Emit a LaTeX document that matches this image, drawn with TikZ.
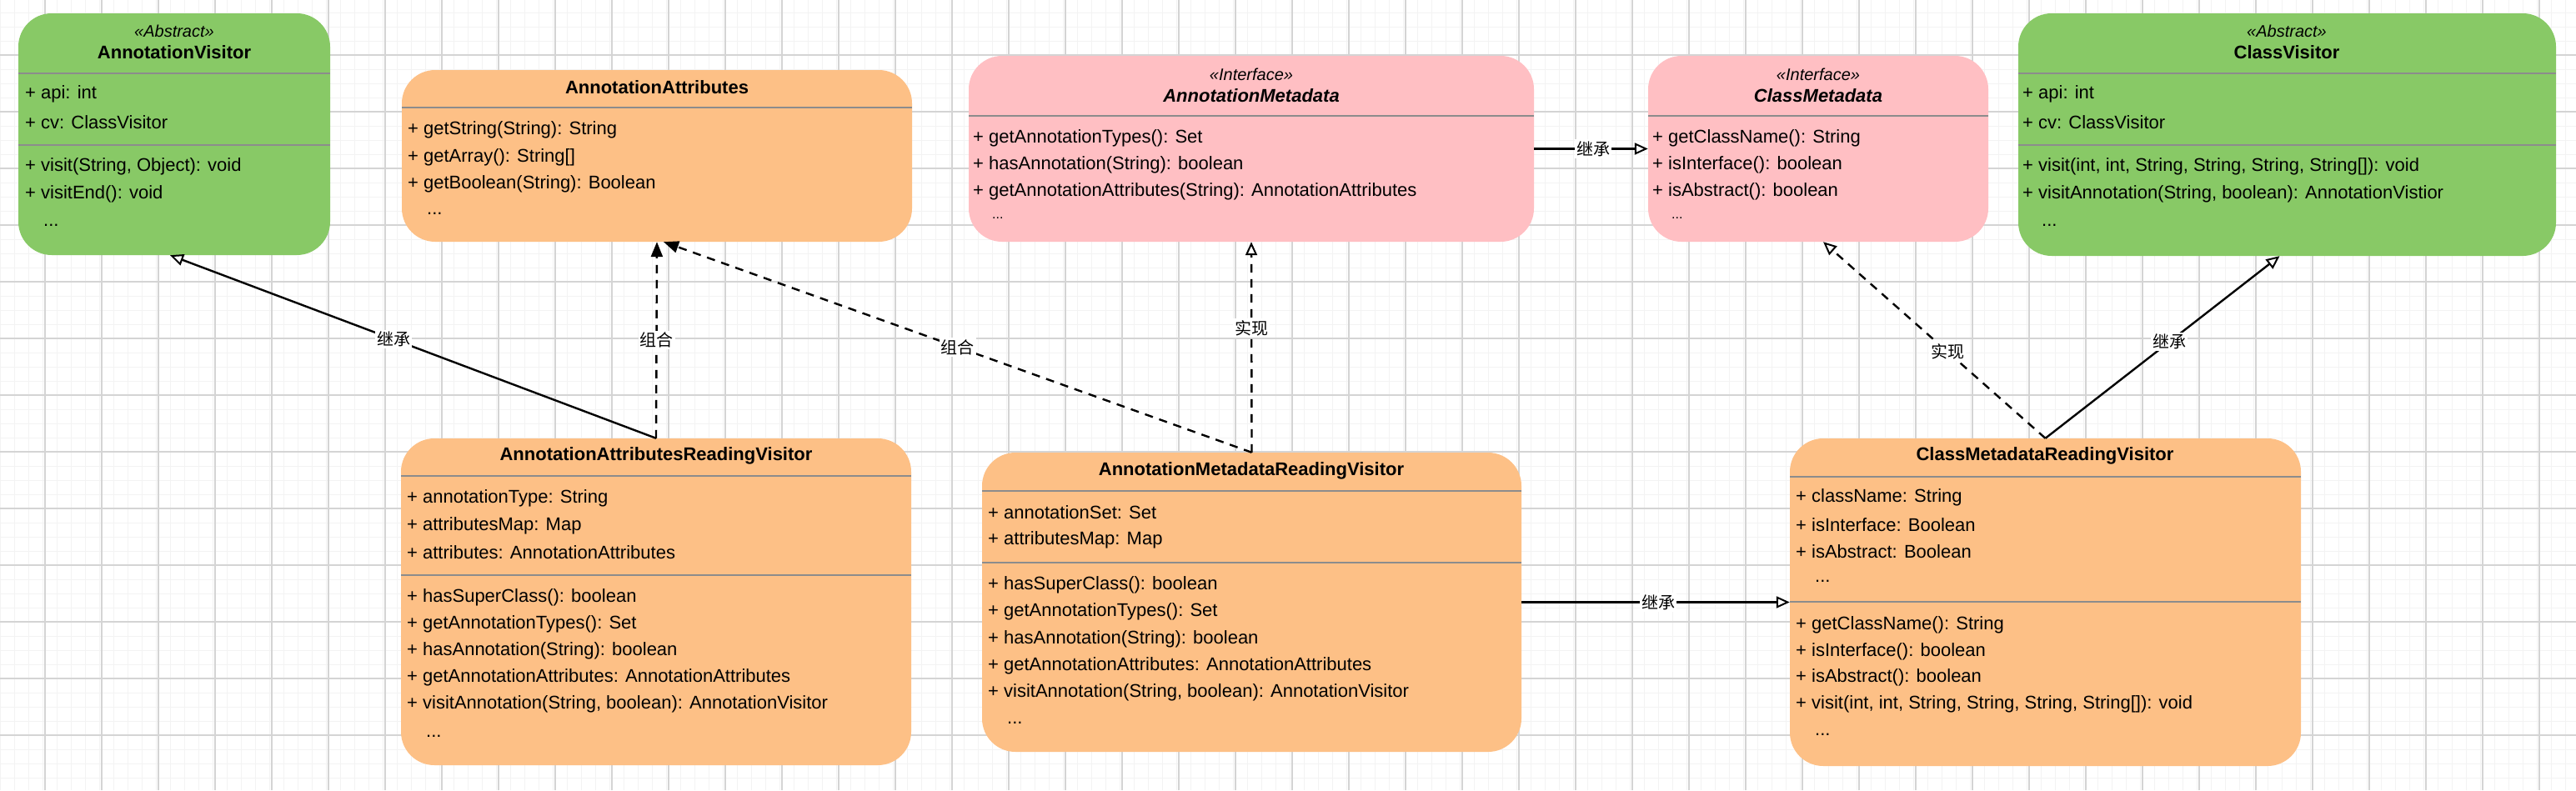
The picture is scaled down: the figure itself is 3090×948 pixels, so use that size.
\documentclass[tikz,border=0pt]{standalone}
\usepackage{fontspec}
\setmainfont{Liberation Sans}
\newfontfamily\cjk{Noto Sans CJK SC}
\usetikzlibrary{arrows.meta}
\definecolor{cgreen}{RGB}{136,201,102}
\definecolor{corange}{RGB}{253,192,134}
\definecolor{cpink}{RGB}{255,191,195}
\definecolor{gminor}{RGB}{243,243,243}
\definecolor{gmajor}{RGB}{212,212,212}
\begin{document}
\begin{tikzpicture}[x=1pt,y=-1pt,
  box/.style={draw=none,rounded corners=40pt,inner sep=0pt},
  row/.style={anchor=west,inner sep=0pt,font=\fontsize{22}{24}\selectfont},
  ttl/.style={anchor=center,inner sep=0pt,font=\bfseries\fontsize{22}{24}\selectfont},
  ster/.style={anchor=center,inner sep=0pt,font=\itshape\fontsize{20}{22}\selectfont},
  sep/.style={draw={rgb,255:red,140;green,140;blue,140},line width=2pt},
  inh/.style={draw,line width=2.4pt,-{Triangle[open,length=16pt,width=14pt,line width=2pt]}},
  real/.style={draw,line width=2.4pt,dash pattern=on 10pt off 8pt,-{Triangle[open,length=16pt,width=14pt,line width=2pt]}},
  comp/.style={draw,line width=2.4pt,dash pattern=on 10pt off 8pt,-{Triangle[length=18pt,width=14pt]}},
  lbl/.style={fill=white,inner sep=2pt,font=\cjk\fontsize{20}{22}\selectfont}]
\useasboundingbox (0,0) rectangle (3090,948);
\fill[white] (0,0) rectangle (3090,948);
\foreach \i in {0,...,182} {\draw[gminor,line width=1pt] (\i*17,0) -- (\i*17,948);}
\foreach \i in {0,...,56} {\draw[gminor,line width=1pt] (0,\i*17-2) -- (3090,\i*17-2);}
\foreach \i in {0,...,46} {\draw[gmajor,line width=1.2pt] (\i*68-14,0) -- (\i*68-14,948);}
\foreach \i in {0,...,14} {\draw[gmajor,line width=1.2pt] (0,\i*68-2) -- (3090,\i*68-2);}

% AnnotationVisitor
\node[box,fill=cgreen,minimum width=374pt,minimum height=290pt] (av) at (209,161) {};
\node[ster] (avs) at (209,37) {<<Abstract>>};
\node[ttl] (avt) at (209,63) {AnnotationVisitor};
\draw[sep] (22,88) -- (396,88);
\node[row] (av1) at (30,113) {+ api: int};
\node[row] (av2) at (30,147) {+ cv: ClassVisitor};
\draw[sep] (22,174) -- (396,174);
\node[row] (av3) at (30,200) {+ visit(String, Object): void};
\node[row] (av4) at (30,233) {+ visitEnd(): void};
\node[row] (av5) at (52,270) {...};

% AnnotationAttributes
\node[box,fill=corange,minimum width=612pt,minimum height=206pt] (aa) at (788,187) {};
\node[ttl] (aat) at (788,105) {AnnotationAttributes};
\draw[sep] (482,129) -- (1094,129);
\node[row] (aa1) at (489,156) {+ getString(String): String};
\node[row] (aa2) at (489,189) {+ getArray(): String[]};
\node[row] (aa3) at (489,221) {+ getBoolean(String): Boolean};
\node[row] (aa4) at (512,256) {...};

% AnnotationMetadata
\node[box,fill=cpink,minimum width=678pt,minimum height=223pt] (am) at (1501,178.5) {};
\node[ster] (ams) at (1501,89) {<<Interface>>};
\node[ttl,font=\bfseries\itshape\fontsize{22}{24}\selectfont] (amt) at (1501,115) {AnnotationMetadata};
\draw[sep] (1162,139) -- (1840,139);
\node[row] (am1) at (1167,166) {+ getAnnotationTypes(): Set};
\node[row] (am2) at (1167,198) {+ hasAnnotation(String): boolean};
\node[row] (am3) at (1167,230) {+ getAnnotationAttributes(String): AnnotationAttributes};
\node[row,font=\fontsize{16}{18}\selectfont] (am4) at (1190,262) {...};

% ClassMetadata
\node[box,fill=cpink,minimum width=408pt,minimum height=223pt] (cm) at (2181,178.5) {};
\node[ster] (cms) at (2181,89) {<<Interface>>};
\node[ttl,font=\bfseries\itshape\fontsize{22}{24}\selectfont] (cmt) at (2181,115) {ClassMetadata};
\draw[sep] (1977,139) -- (2385,139);
\node[row] (cm1) at (1982,166) {+ getClassName(): String};
\node[row] (cm2) at (1982,198) {+ isInterface(): boolean};
\node[row] (cm3) at (1982,230) {+ isAbstract(): boolean};
\node[row,font=\fontsize{16}{18}\selectfont] (cm4) at (2005,262) {...};

% ClassVisitor
\node[box,fill=cgreen,minimum width=645pt,minimum height=291pt] (cv) at (2743.5,161.5) {};
\node[ster] (cvs) at (2743,37) {<<Abstract>>};
\node[ttl] (cvt) at (2743,63) {ClassVisitor};
\draw[sep] (2421,88) -- (3066,88);
\node[row] (cv1) at (2426,113) {+ api: int};
\node[row] (cv2) at (2426,147) {+ cv: ClassVisitor};
\draw[sep] (2421,174) -- (3066,174);
\node[row] (cv3) at (2426,200) {+ visit(int, int, String, String, String, String[]): void};
\node[row] (cv4) at (2426,233) {+ visitAnnotation(String, boolean): AnnotationVistior};
\node[row] (cv5) at (2449,270) {...};

% AnnotationAttributesReadingVisitor
\node[box,fill=corange,minimum width=612pt,minimum height=392pt] (aarv) at (787,722) {};
\begin{scope}
\clip[rounded corners=40pt] (481,526) rectangle (1093,918);
\node[ttl] (aarvt) at (787,547) {AnnotationAttributesReadingVisitor};
\draw[sep] (481,571) -- (1093,571);
\node[row] (aarv1) at (488,598) {+ annotationType: String};
\node[row] (aarv2) at (488,631) {+ attributesMap: Map};
\node[row] (aarv3) at (488,663) {+ attributes: AnnotationAttributes};
\draw[sep] (481,690) -- (1093,690);
\node[row] (aarv4) at (488,717) {+ hasSuperClass(): boolean};
\node[row] (aarv5) at (488,749) {+ getAnnotationTypes(): Set};
\node[row] (aarv6) at (488,781) {+ hasAnnotation(String): boolean};
\node[row] (aarv7) at (488,813) {+ getAnnotationAttributes: AnnotationAttributes};
\node[row] (aarv8) at (488,845) {+ visitAnnotation(String, boolean): AnnotationVisitor};
\node[row] (aarv9) at (511,883) {...};
\end{scope}

% AnnotationMetadataReadingVisitor
\node[box,fill=corange,minimum width=647pt,minimum height=359pt] (amrv) at (1501.5,722.5) {};
\node[ttl] (amrvt) at (1501,565) {AnnotationMetadataReadingVisitor};
\draw[sep] (1178,589) -- (1825,589);
\node[row] (amrv1) at (1185,615) {+ annotationSet: Set};
\node[row] (amrv2) at (1185,648) {+ attributesMap: Map};
\draw[sep] (1178,675) -- (1825,675);
\node[row] (amrv3) at (1185,702) {+ hasSuperClass(): boolean};
\node[row] (amrv4) at (1185,734) {+ getAnnotationTypes(): Set};
\node[row] (amrv5) at (1185,767) {+ hasAnnotation(String): boolean};
\node[row] (amrv6) at (1185,799) {+ getAnnotationAttributes: AnnotationAttributes};
\node[row] (amrv7) at (1185,831) {+ visitAnnotation(String, boolean): AnnotationVisitor};
\node[row] (amrv8) at (1208,867) {...};

% ClassMetadataReadingVisitor
\node[box,fill=corange,minimum width=613pt,minimum height=393pt] (cmrv) at (2453.5,722.5) {};
\node[ttl] (cmrvt) at (2453,547) {ClassMetadataReadingVisitor};
\draw[sep] (2147,572) -- (2760,572);
\node[row] (cmrv1) at (2154,597) {+ className: String};
\node[row] (cmrv2) at (2154,630) {+ isInterface: Boolean};
\node[row] (cmrv3) at (2154,662) {+ isAbstract: Boolean};
\node[row] (cmrv4) at (2177,697) {...};
\draw[sep] (2147,722) -- (2760,722);
\node[row] (cmrv5) at (2154,750) {+ getClassName(): String};
\node[row] (cmrv6) at (2154,782) {+ isInterface(): boolean};
\node[row] (cmrv7) at (2154,813) {+ isAbstract(): boolean};
\node[row] (cmrv8) at (2154,845) {+ visit(int, int, String, String, String, String[]): void};
\node[row] (cmrv9) at (2177,881) {...};

% connectors
\path[inh] (aarv.north) -- node[lbl,pos=0.54] (l1) {继承} ([xshift=-5pt]av.south);
\path[comp] (aarv.north) -- node[lbl,pos=0.5] (l2) {组合} (aa.south);
\path[comp] (amrv.north) -- node[lbl,pos=0.5] (l3) {组合} ([xshift=8pt]aa.south);
\path[real] (amrv.north) -- node[lbl,pos=0.59] (l4) {实现} (am.south);
\path[inh] (am.east) -- node[lbl,pos=0.52] (l5) {继承} (cm.west);
\path[real] (cmrv.north) -- node[lbl,pos=0.44] (l6) {实现} ([xshift=6pt]cm.south);
\path[inh] (cmrv.north) -- node[lbl,pos=0.53] (l7) {继承} ([xshift=-9pt]cv.south);
\path[inh] (amrv.east) -- node[lbl,pos=0.51] (l8) {继承} (cmrv.west);
\end{tikzpicture}
\end{document}
